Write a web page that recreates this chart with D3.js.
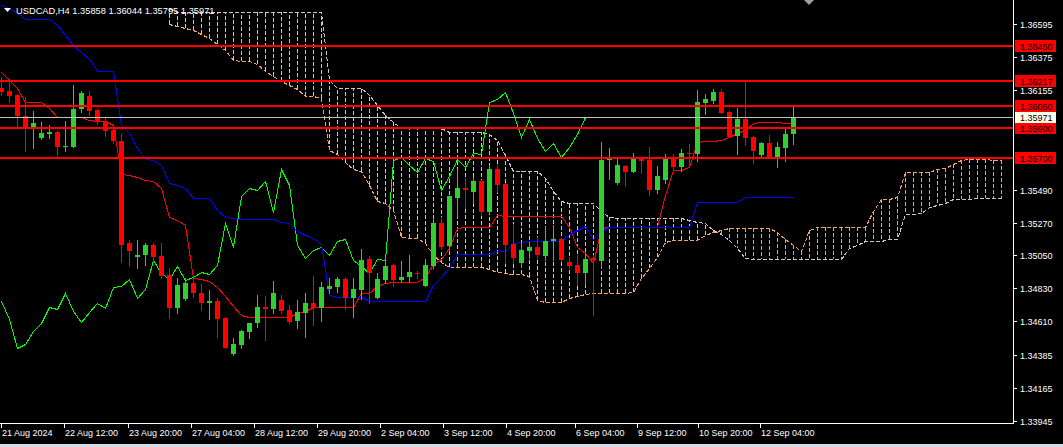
<!DOCTYPE html>
<html><head><meta charset="utf-8">
<script src="https://cdn.jsdelivr.net/npm/d3@7"></script>
<style>html,body{margin:0;padding:0;background:#000;overflow:hidden}svg{display:block}</style>
</head><body>
<svg id="chart" width="1063" height="447"></svg>
<script>
// ---------- DATA ----------
const symbolTitle = "USDCAD,H4  1.35858 1.36044 1.35795 1.35971";
const opens = [1.36168,1.36150,1.36121,1.35981,1.35899,1.35836,1.35861,1.35876,1.35777,1.35776,
1.36026,1.36114,1.36021,1.35947,1.35887,1.35814,1.35135,1.35042,1.35053,1.35120,
1.35047,1.34920,1.34701,1.34760,1.34868,1.34798,1.34735,1.34746,1.34635,1.34392,
1.34452,1.34541,1.34597,1.34708,1.34695,1.34753,1.34686,1.34615,1.34668,1.34735,
1.34701,1.34828,1.34842,1.34893,1.34768,1.34820,1.35024,1.34768,1.34886,1.34986,
1.34886,1.34906,1.34935,1.34848,1.34982,1.35265,1.35113,1.35436,1.35498,1.35476,
1.35547,1.35342,1.35627,1.35527,1.35127,1.35002,1.35082,1.35109,1.35047,1.35149,
1.35158,1.35008,1.34986,1.34931,1.35031,1.35013,1.35687,1.35536,1.35647,1.35609,
1.35699,1.35687,1.35487,1.35554,1.35699,1.35638,1.35736,1.35727,1.36070,1.36083,
1.36139,1.36006,1.35847,1.35959,1.35839,1.35721,1.35799,1.35705,1.35769,1.35858];
const highs = [1.36241,1.36232,1.36128,1.36110,1.36014,1.35939,1.35921,1.35881,1.35947,1.36188,
1.36148,1.36148,1.36028,1.35966,1.35899,1.35859,1.35153,1.35153,1.35131,1.35131,
1.35131,1.34964,1.34898,1.34898,1.34920,1.34860,1.34820,1.34764,1.34641,1.34497,
1.34553,1.34601,1.34784,1.34780,1.34882,1.34784,1.34719,1.34753,1.34798,1.34913,
1.34875,1.34898,1.34904,1.34904,1.34898,1.35091,1.35047,1.34931,1.35020,1.34993,
1.35010,1.35050,1.34946,1.35024,1.35298,1.35305,1.35447,1.35625,1.35565,1.35576,
1.35554,1.35654,1.35654,1.35534,1.35260,1.35142,1.35142,1.35171,1.35238,1.35253,
1.35165,1.35042,1.35053,1.35064,1.35053,1.35809,1.35765,1.35699,1.35654,1.35732,
1.35704,1.35772,1.35647,1.35727,1.35727,1.35761,1.35794,1.36154,1.36126,1.36161,
1.36161,1.36014,1.36032,1.36210,1.35847,1.35809,1.35854,1.35809,1.35894,1.36044];
const lows = [1.36121,1.36076,1.35909,1.35749,1.35765,1.35825,1.35832,1.35709,1.35749,1.35771,
1.36010,1.35988,1.35925,1.35849,1.35799,1.35008,1.34982,1.34964,1.34986,1.35008,
1.34898,1.34631,1.34664,1.34753,1.34775,1.34686,1.34626,1.34508,1.34430,1.34386,
1.34432,1.34497,1.34575,1.34486,1.34664,1.34664,1.34601,1.34564,1.34504,1.34586,
1.34615,1.34798,1.34808,1.34691,1.34641,1.34758,1.34731,1.34763,1.34866,1.34846,
1.34875,1.34875,1.34898,1.34843,1.34964,1.35091,1.35091,1.35305,1.35365,1.35398,
1.35320,1.35331,1.35476,1.34998,1.34998,1.34971,1.35031,1.35031,1.35020,1.35020,
1.35016,1.34964,1.34853,1.34853,1.34653,1.34964,1.35560,1.35530,1.35514,1.35604,
1.35598,1.35454,1.35469,1.35536,1.35616,1.35616,1.35638,1.35682,1.35994,1.36070,
1.35998,1.35841,1.35727,1.35787,1.35665,1.35699,1.35699,1.35642,1.35682,1.35795];
const closes = [1.36141,1.36116,1.35983,1.35905,1.35932,1.35865,1.35876,1.35776,1.35782,1.36028,
1.36136,1.36016,1.35939,1.35883,1.35814,1.35120,1.35082,1.35053,1.35120,1.35042,
1.34913,1.34701,1.34853,1.34868,1.34802,1.34735,1.34746,1.34626,1.34434,1.34459,
1.34546,1.34601,1.34708,1.34695,1.34802,1.34679,1.34608,1.34673,1.34735,1.34701,
1.34842,1.34846,1.34893,1.34768,1.34824,1.35020,1.34931,1.34891,1.34980,1.34888,
1.34906,1.34942,1.34926,1.34986,1.35265,1.35109,1.35444,1.35498,1.35487,1.35547,
1.35342,1.35627,1.35520,1.35120,1.35035,1.35087,1.35109,1.35053,1.35147,1.35158,
1.35020,1.34980,1.34931,1.35026,1.35020,1.35687,1.35705,1.35654,1.35609,1.35699,
1.35682,1.35487,1.35580,1.35694,1.35642,1.35732,1.35727,1.36074,1.36094,1.36139,
1.35999,1.35843,1.35959,1.35836,1.35749,1.35799,1.35705,1.35772,1.35861,1.35971];
const tenkanSen = [1.36276,1.36221,1.36168,1.36076,1.36076,1.36076,1.36034,1.35974,1.35974,1.35974,
1.35974,1.35954,1.35947,1.35947,1.35921,1.35594,1.35587,1.35576,1.35554,1.35547,
1.35500,1.35309,1.35287,1.35253,1.34898,1.34891,1.34880,1.34840,1.34780,1.34713,
1.34653,1.34638,1.34638,1.34638,1.34638,1.34638,1.34638,1.34668,1.34681,1.34704,
1.34704,1.34704,1.34704,1.34704,1.34704,1.34798,1.34798,1.34846,1.34864,1.34873,
1.34873,1.34873,1.34873,1.34908,1.34993,1.35024,1.35100,1.35231,1.35238,1.35238,
1.35238,1.35238,1.35320,1.35313,1.35313,1.35313,1.35313,1.35313,1.35313,1.35313,
1.35313,1.35242,1.35109,1.35064,1.34998,1.35233,1.35238,1.35238,1.35238,1.35238,
1.35238,1.35238,1.35238,1.35454,1.35620,1.35620,1.35640,1.35807,1.35814,1.35814,
1.35821,1.35843,1.35868,1.35887,1.35932,1.35943,1.35943,1.35943,1.35936,1.35936];
const kijunSen = [1.36722,1.36702,1.36668,1.36628,1.36626,1.36626,1.36626,1.36588,1.36521,1.36455,
1.36408,1.36361,1.36283,1.36281,1.36281,1.35921,1.35867,1.35767,1.35694,1.35687,
1.35654,1.35534,1.35520,1.35498,1.35436,1.35436,1.35432,1.35354,1.35307,1.35298,
1.35291,1.35291,1.35291,1.35291,1.35291,1.35273,1.35266,1.35213,1.35186,1.35166,
1.35127,1.34786,1.34770,1.34770,1.34770,1.34770,1.34748,1.34748,1.34748,1.34748,
1.34748,1.34748,1.34748,1.34748,1.34853,1.34906,1.34966,1.35060,1.35063,1.35063,
1.35063,1.35063,1.35077,1.35077,1.35131,1.35143,1.35149,1.35149,1.35149,1.35149,
1.35149,1.35193,1.35220,1.35247,1.35157,1.35213,1.35238,1.35238,1.35238,1.35238,
1.35238,1.35238,1.35238,1.35238,1.35238,1.35238,1.35238,1.35405,1.35405,1.35405,
1.35405,1.35405,1.35405,1.35438,1.35438,1.35438,1.35438,1.35438,1.35438,1.35438];
// Senkou spans (126 points, bars 0..125; null = off-chart)
const senkouA = [null,null,null,null,null,null,null,null,null,null,
null,null,null,null,null,null,null,null,null,null,
null,1.36595,1.36581,1.36568,1.36555,1.36528,1.36501,1.36461,1.36418,1.36355,
1.36351,1.36351,1.36330,1.36281,1.36248,1.36214,1.36191,1.36158,1.36114,1.36114,
1.36101,1.35757,1.35727,1.35674,1.35624,1.35617,1.35520,1.35414,1.35402,1.35354,
1.35173,1.35165,1.35165,1.35131,1.35053,1.35008,1.34975,1.34970,1.34970,1.34970,
1.34970,1.34960,1.34942,1.34931,1.34926,1.34926,1.34913,1.34753,1.34741,1.34741,
1.34741,1.34764,1.34782,1.34793,1.34800,1.34800,1.34800,1.34800,1.34800,1.34808,
1.34900,1.34966,1.35042,1.35140,1.35150,1.35150,1.35150,1.35150,1.35187,1.35207,
1.35223,1.35233,1.35233,1.35233,1.35233,1.35233,1.35233,1.35209,1.35163,1.35120,
1.35077,1.35223,1.35237,1.35237,1.35237,1.35237,1.35237,1.35237,1.35237,1.35347,
1.35427,1.35427,1.35440,1.35607,1.35609,1.35609,1.35609,1.35624,1.35636,1.35661,
1.35684,1.35691,1.35691,1.35691,1.35687,1.35687];
const senkouB = [null,null,null,null,null,null,null,null,null,null,
null,null,null,null,null,null,null,null,null,null,
null,1.36702,1.36675,1.36675,1.36675,1.36675,1.36675,1.36675,1.36675,1.36675,
1.36675,1.36675,1.36675,1.36675,1.36675,1.36675,1.36675,1.36675,1.36675,1.36675,
1.36675,1.36221,1.36168,1.36168,1.36168,1.36168,1.36121,1.36054,1.35988,1.35941,
1.35901,1.35901,1.35901,1.35901,1.35901,1.35901,1.35876,1.35876,1.35876,1.35876,
1.35876,1.35861,1.35821,1.35721,1.35616,1.35614,1.35614,1.35614,1.35567,1.35480,
1.35414,1.35403,1.35403,1.35403,1.35403,1.35347,1.35309,1.35303,1.35303,1.35303,
1.35303,1.35303,1.35303,1.35303,1.35303,1.35303,1.35290,1.35273,1.35269,1.35220,
1.35193,1.35153,1.35100,1.35033,1.35026,1.35026,1.35026,1.35026,1.35026,1.35026,
1.35026,1.35026,1.35026,1.35026,1.35026,1.35026,1.35100,1.35120,1.35147,1.35147,
1.35147,1.35157,1.35157,1.35329,1.35329,1.35333,1.35374,1.35387,1.35400,1.35427,
1.35427,1.35427,1.35431,1.35431,1.35431,1.35431];
const chikouShift = 26;
const priceTicks = [1.36595,1.36375,1.36155,1.35490,1.35270,1.35050,1.34830,1.34610,1.34385,1.34165,1.33945];
const timeLabels = ["21 Aug 2024","22 Aug 12:00","23 Aug 20:00","27 Aug 04:00","28 Aug 12:00","29 Aug 20:00","2 Sep 04:00","3 Sep 12:00","4 Sep 20:00","6 Sep 04:00","9 Sep 12:00","10 Sep 20:00","12 Sep 04:00"];
// where each time label sits on the bar axis
const timeLabelPos = [0,7.875,15.875,23.75,31.625,39.5,47.375,55.25,63.125,71.75,79.5,87.125,94.875];
const levelLines = [1.36450,1.36217,1.36050,1.35900,1.35700];
const bidPrice = 1.35971;
const fmt = d3.format(".5f");

// ---------- LAYOUT ----------
const PR = 1013, PB = 423;
const svg = d3.select("#chart");
const x = d3.scaleLinear().domain([0, 126.5]).range([1, PR]);
const y = d3.scaleLinear().domain([1.33932, 1.36755]).range([PB, 0]);
const bx = i => Math.round(x(i));
const by = v => Math.round(y(v));

svg.append("rect").attr("width",1063).attr("height",447).attr("fill","#000");
svg.append("defs").append("clipPath").attr("id","plot")
  .append("rect").attr("x",0).attr("y",0).attr("width",PR).attr("height",PB);
const g = svg.append("g").attr("clip-path","url(#plot)").attr("shape-rendering","crispEdges");

// ---------- CLOUD ----------
const cloudIdx = d3.range(senkouA.length).filter(k => senkouA[k] != null && senkouB[k] != null);
g.append("g").selectAll("line").data(cloudIdx).join("line")
  .attr("x1", k => bx(k)+0.5).attr("x2", k => bx(k)+0.5)
  .attr("y1", k => by(senkouA[k])).attr("y2", k => by(senkouB[k]))
  .attr("stroke", k => senkouA[k] >= senkouB[k] ? "#F4A460" : "#D8BFD8")
  .attr("stroke-width",1).attr("stroke-dasharray","4,2");
const spanLine = arr => d3.line().defined(d => arr[d] != null).x(d => bx(d)+0.5).y(d => by(arr[d])+0.5);
g.append("path").attr("d", spanLine(senkouA)(d3.range(senkouA.length)))
  .attr("fill","none").attr("stroke","#F4A460").attr("stroke-dasharray","4,2");
g.append("path").attr("d", spanLine(senkouB)(d3.range(senkouB.length)))
  .attr("fill","none").attr("stroke","#D8BFD8").attr("stroke-dasharray","4,2");

// ---------- LINES ----------
const line = d3.line().x(d => bx(d[0])+0.5).y(d => by(d[1])+0.5);
const chikou = closes.slice(chikouShift).map((c,j) => [j, c]);
g.append("path").attr("d", line(chikou)).attr("fill","none").attr("stroke","#00FF00");
g.append("path").attr("d", line(tenkanSen.map((v,i)=>[i,v]))).attr("fill","none").attr("stroke","#FF0000");
g.append("path").attr("d", line(kijunSen.map((v,i)=>[i,v]))).attr("fill","none").attr("stroke","#0000FF");

// ---------- CANDLES ----------
const idx = d3.range(opens.length);
const cg = g.append("g");
cg.selectAll("line.w").data(idx).join("line").attr("class","w")
  .attr("x1", i => bx(i)+0.5).attr("x2", i => bx(i)+0.5)
  .attr("y1", i => by(highs[i])).attr("y2", i => by(lows[i])+1)
  .attr("stroke", i => closes[i] >= opens[i] ? "#32CD32" : "#FF0000");
cg.selectAll("rect.b").data(idx).join("rect").attr("class","b")
  .attr("x", i => bx(i)-2).attr("width",5)
  .attr("y", i => by(Math.max(opens[i],closes[i])))
  .attr("height", i => Math.max(1, by(Math.min(opens[i],closes[i])) - by(Math.max(opens[i],closes[i]))))
  .attr("fill", i => closes[i] >= opens[i] ? "#32CD32" : "#FF0000");

// ---------- LEVEL LINES ----------
g.append("line").attr("x1",0).attr("x2",PR).attr("y1",by(bidPrice)+0.5).attr("y2",by(bidPrice)+0.5)
  .attr("stroke","#C0C0C0");
g.selectAll("line.lv").data(levelLines).join("line").attr("class","lv")
  .attr("x1",0).attr("x2",PR).attr("y1",d=>by(d)).attr("y2",d=>by(d))
  .attr("stroke","#FF0000").attr("stroke-width",2);

// ---------- FRAME & AXES ----------
const ax = svg.append("g").attr("shape-rendering","crispEdges");
ax.append("line").attr("x1",PR+0.5).attr("x2",PR+0.5).attr("y1",0).attr("y2",PB+1).attr("stroke","#fff");
ax.append("line").attr("x1",0).attr("x2",PR+1).attr("y1",PB+0.5).attr("y2",PB+0.5).attr("stroke","#fff");
const font = "'Liberation Sans', Arial, sans-serif";
ax.selectAll("line.pt").data(priceTicks).join("line").attr("class","pt")
  .attr("x1",PR+1).attr("x2",PR+4).attr("y1",d=>by(d)+0.5).attr("y2",d=>by(d)+0.5).attr("stroke","#fff");
svg.selectAll("text.pl").data(priceTicks).join("text").attr("class","pl")
  .attr("x",PR+7).attr("y",d=>by(d)+3.5).text(d=>fmt(d))
  .attr("fill","#fff").style("font-family",font).style("font-size","9px");
const lab = svg.selectAll("g.ll").data(levelLines).join("g").attr("class","ll");
lab.append("rect").attr("x",PR+2).attr("width",41).attr("y",d=>by(d)-6).attr("height",12).attr("fill","#FF0000");
lab.append("text").attr("x",PR+7).attr("y",d=>by(d)+3.5).text(d=>fmt(d))
  .attr("fill","#000").style("font-family",font).style("font-size","9px");
const bl = svg.append("g");
bl.append("rect").attr("x",PR+2).attr("width",41).attr("y",by(bidPrice)-5).attr("height",11).attr("fill","#FFFFE8");
bl.append("text").attr("x",PR+7).attr("y",by(bidPrice)+4).text(fmt(bidPrice))
  .attr("fill","#000").style("font-family",font).style("font-size","9px");
ax.selectAll("line.tt").data(timeLabelPos).join("line").attr("class","tt")
  .attr("x1",p=>Math.round(x(p))+0.5).attr("x2",p=>Math.round(x(p))+0.5).attr("y1",PB+1).attr("y2",PB+5).attr("stroke","#fff");
svg.selectAll("text.tl").data(timeLabelPos).join("text").attr("class","tl")
  .attr("x",p=>Math.round(x(p))+1).attr("y",PB+13).text((d,j)=>timeLabels[j])
  .attr("fill","#fff").style("font-family",font).style("font-size","9px");
svg.append("rect").attr("x",0).attr("y",444).attr("width",1063).attr("height",3).attr("fill","#D4DCE6");
svg.append("path").attr("d", d3.line()([[4,8],[11,8],[7.5,12]]) + "Z").attr("fill","#fff");
svg.append("text").attr("x",16).attr("y",14).text(symbolTitle)
  .attr("fill","#fff").style("font-family",font).style("font-size","9.3px");
const sx = bx(101);
svg.append("path").attr("d", d3.line()([[sx-5,0],[sx+5,0],[sx,5]]) + "Z").attr("fill","#A0A0A0");
</script>
</body></html>
